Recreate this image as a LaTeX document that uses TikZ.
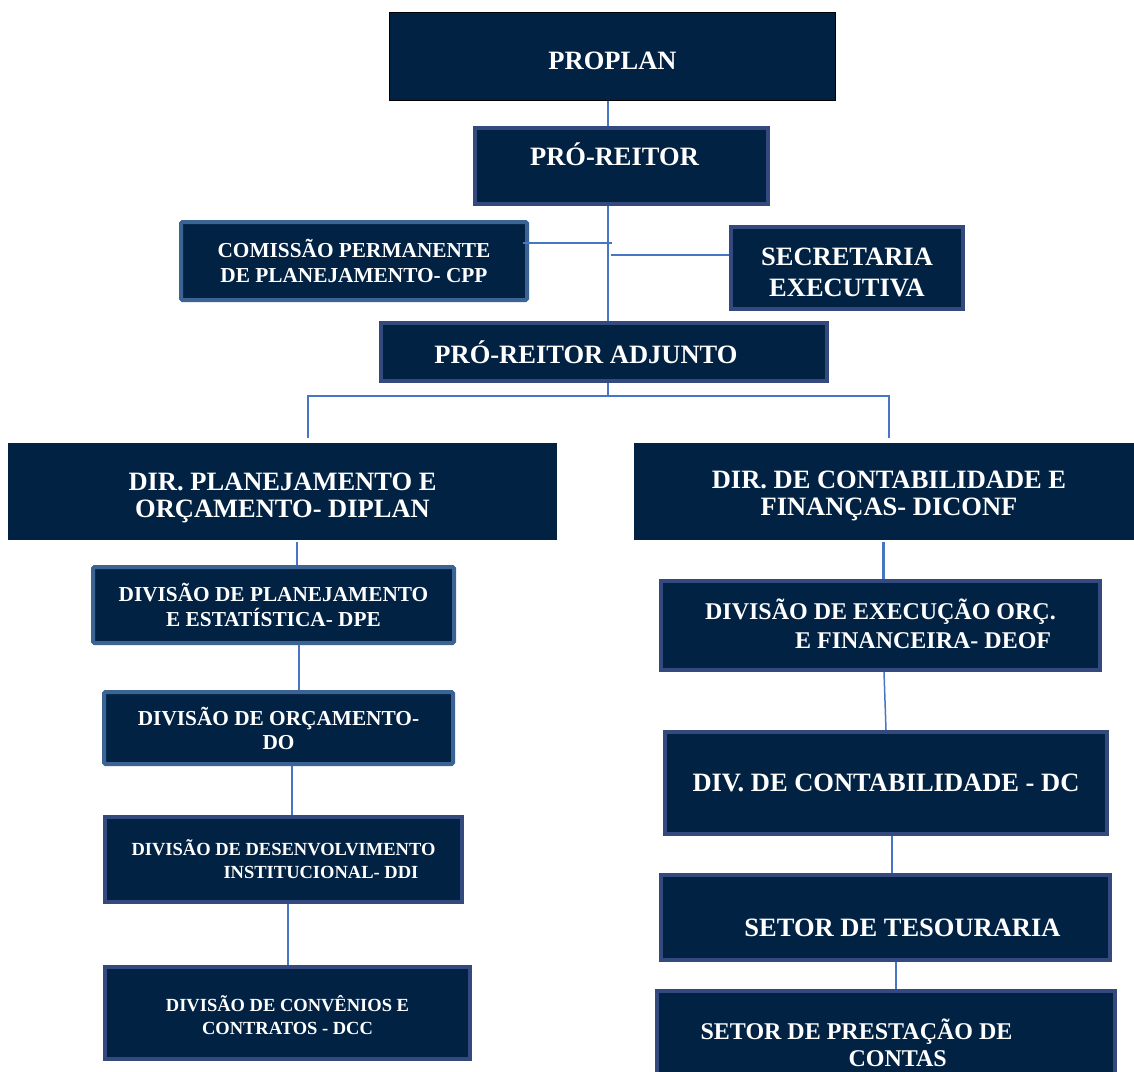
\documentclass[tikz,border=0pt]{standalone}
\usepackage{fontspec}
\setmainfont{Liberation Serif}
\usepackage{tikz}

\definecolor{boxfill}{RGB}{2,34,68}
\definecolor{boxedge}{RGB}{52,74,126}
\definecolor{boxedgelt}{RGB}{59,99,148}
\definecolor{linkblue}{RGB}{70,118,196}

% invisible struts to nudge text inside a box
\newcommand\vlift[1]{\rule{0pt}{#1}}
\newcommand\vdrop[1]{\rule[-#1]{0pt}{#1}}

\begin{document}
\begin{tikzpicture}%
    [x=1pt, y=-1pt,
    box/.style={rectangle, draw=boxedge, line width=4pt, fill=boxfill, text=white, align=center, inner sep=0pt},
    boxlt/.style={box, draw=boxedgelt, rounded corners=1.5pt},
    flat/.style={box, draw=none},
    big/.style={font=\bfseries\fontsize{26.5}{27}\selectfont},
    mid/.style={font=\bfseries\fontsize{24}{29}\selectfont},
    small/.style={font=\bfseries\fontsize{21.3}{25}\selectfont},
    tiny/.style={font=\bfseries\fontsize{18.5}{23}\selectfont},
    link/.style={draw=linkblue, line width=1.5pt}]

    \useasboundingbox (0,0) rectangle (1134,1071);
    \clip (0,0) rectangle (1134,1071);

    \node [box,big,draw=black,line width=1.5pt,minimum width=446,minimum height=88] (proplan) at (612.5,56.5) {\vlift{25.5pt}PROPLAN};
    \node [box,big,minimum width=293,minimum height=76] (reitor) at (621.5,166)
      {\raisebox{0pt}[\height][\dimexpr\depth+24pt]{PRÓ-REITOR}\hspace*{14pt}};
    \node [boxlt,small,minimum width=346,minimum height=78] (cpp) at (354,261) {COMISSÃO PERMANENTE\\DE PLANEJAMENTO- CPP};
    \node [box,big,minimum width=232,minimum height=82,font=\bfseries\fontsize{26.5}{31}\selectfont] (secretaria) at (847,268) {\vlift{25.5pt}SECRETARIA\\EXECUTIVA};
    \node [box,big,minimum width=446,minimum height=58] (adjunto) at (604,352) {PRÓ-REITOR ADJUNTO\hspace*{36pt}};

    \node [flat,big,minimum width=549,minimum height=97] (diplan) at (282.5,491.5) {\vlift{29.5pt}DIR. PLANEJAMENTO E\\ORÇAMENTO- DIPLAN};
    \node [flat,big,minimum width=500,minimum height=97] (diconf) at (884,491.5) {\vlift{25.5pt}\hspace*{10pt}DIR. DE CONTABILIDADE E\\\hspace*{10pt}FINANÇAS- DICONF};

    \node [boxlt,small,minimum width=361,minimum height=76] (dpe) at (273.5,605) {DIVISÃO DE PLANEJAMENTO\\E ESTATÍSTICA- DPE};
    \node [boxlt,small,minimum width=349,minimum height=72,font=\bfseries\fontsize{21.3}{24}\selectfont] (do) at (278.5,728) {DIVISÃO DE ORÇAMENTO-\\DO};
    \node [box,tiny,minimum width=357,minimum height=85,align=left] (ddi) at (283.5,859.5) {DIVISÃO DE DESENVOLVIMENTO\\\hspace*{92pt}INSTITUCIONAL- DDI};
    \node [box,tiny,minimum width=365,minimum height=92] (dcc) at (287.5,1013) {\vlift{20.5pt}DIVISÃO DE CONVÊNIOS E\\CONTRATOS - DCC};

    \node [box,mid,minimum width=439,minimum height=89,align=left] (deof) at (880.5,625.5) {DIVISÃO DE EXECUÇÃO ORÇ.\\\hspace*{90pt}E FINANCEIRA- DEOF\vdrop{4pt}};
    \node [box,big,minimum width=442,minimum height=102] (dc) at (886,783) {DIV. DE CONTABILIDADE - DC};
    \node [box,big,minimum width=449,minimum height=85] (tesouraria) at (885.5,917.5)
      {\hspace*{34pt}\raisebox{0pt}[\dimexpr\height+20pt][\depth]{SETOR DE TESOURARIA}};
    \node [box,mid,minimum width=458,minimum height=107,font=\bfseries\fontsize{24}{27}\selectfont,align=left] (prestacao) at (886,1044.5)
      {SETOR DE PRESTAÇÃO DE\hspace*{59pt}\\\hspace*{148pt}CONTAS\vdrop{4pt}};

    % main trunk
    \coordinate (trunk) at (608,0);
    \draw [link] (proplan.south -| trunk) to (reitor.north -| trunk);
    \draw [link] (reitor.south -| trunk) to (adjunto.north -| trunk);
    \draw [link] ([shift={(-6pt,18pt)}]cpp.east) to ++(89,0);
    \draw [link] ([yshift=13pt]secretaria.west) to ++(-118,0);

    % fork to the two directorates
    \draw [link] (adjunto.south -| trunk) to ++(0,13) coordinate (fork);
    \draw [link] ([shift={(25.5pt,3pt)}]diplan.north) |- (fork) -| ([shift={(5pt,3pt)}]diconf.north);

    % left column
    \draw [link] (diplan.south -| 297,0) to (dpe.north -| 297,0);
    \draw [link] (dpe.south -| 299,0) to (do.north -| 299,0);
    \draw [link] (do.south -| 292,0) to (ddi.north -| 292,0);
    \draw [link] (ddi.south -| 288,0) to (dcc.north -| 288,0);

    % right column
    \draw [link,line width=3pt] (diconf.south -| 883,0) to (deof.north -| 883,0);
    \draw [link] (deof.south -| 884,0) to (dc.north -| 886,0);
    \draw [link] (dc.south -| 892,0) to (tesouraria.north -| 892,0);
    \draw [link] (tesouraria.south -| 896,0) to (prestacao.north -| 896,0);
  \end{tikzpicture}
\end{document}
